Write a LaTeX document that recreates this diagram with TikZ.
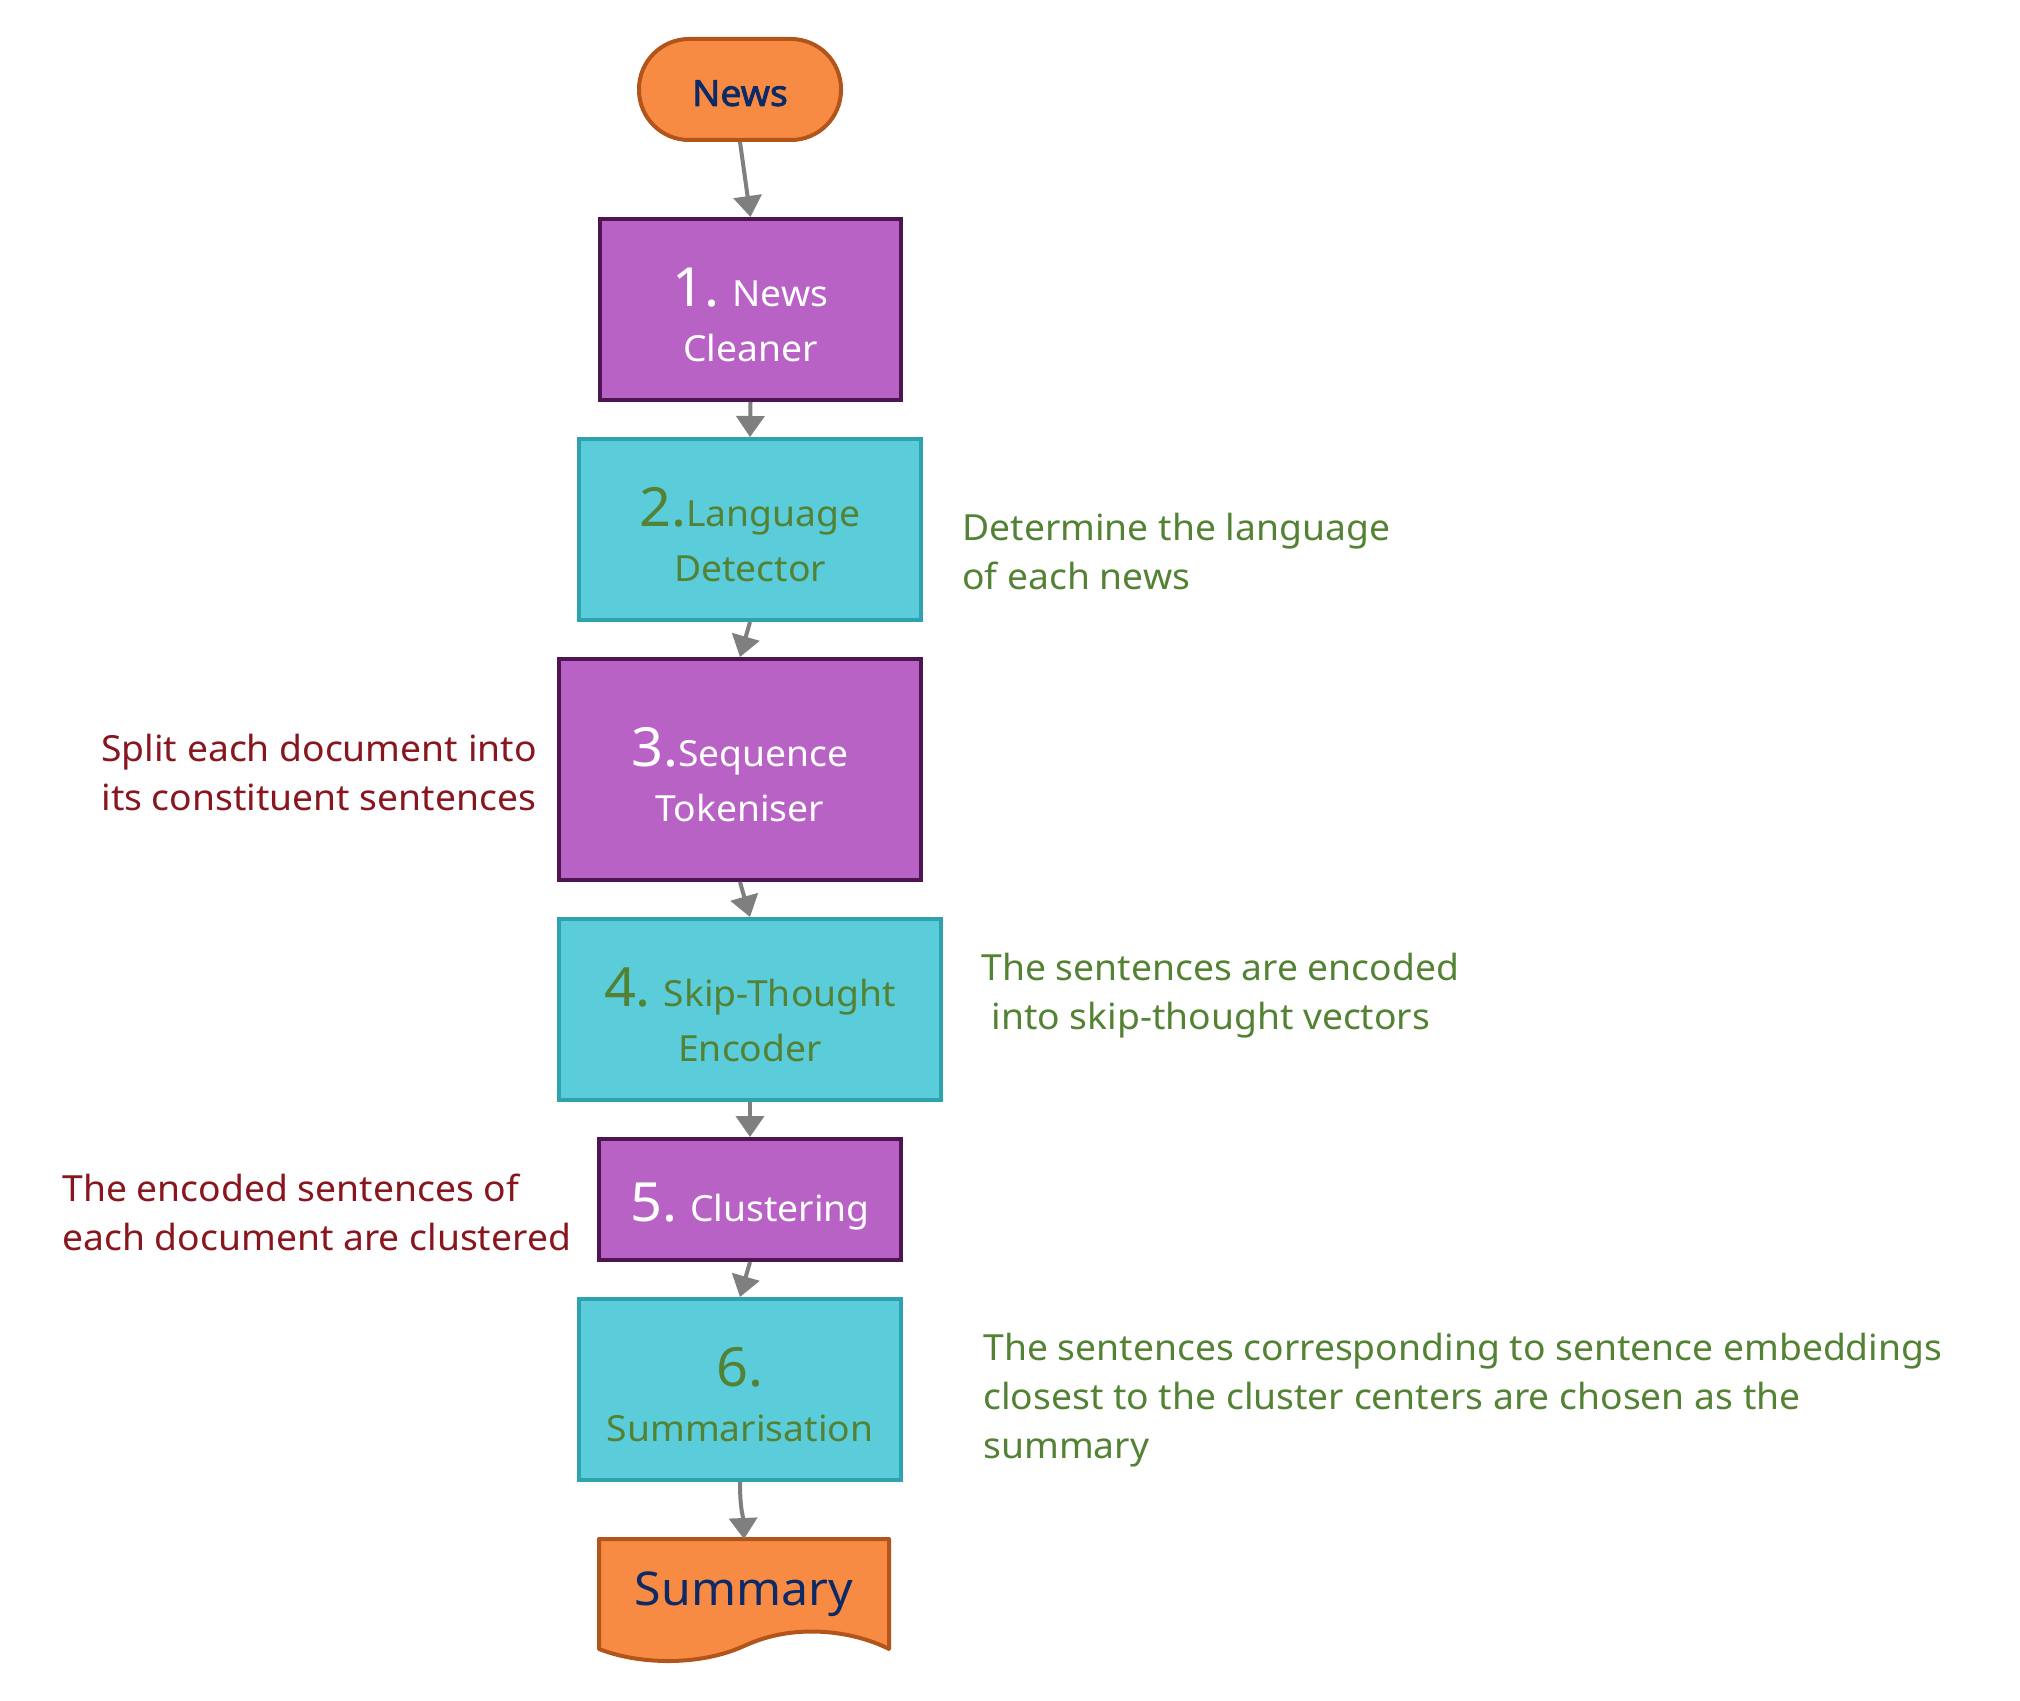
\documentclass[tikz,border=0pt]{standalone}
\usepackage{fontspec}
\setmainfont{Noto Sans}[FakeStretch=1.035]
\newfontfamily\termfont{Noto Sans}[FakeStretch=1.035,FakeBold=2.2]
\usetikzlibrary{arrows.meta,backgrounds}

\definecolor{procfill}{HTML}{B962C6}
\definecolor{procline}{HTML}{4E1551}
\definecolor{stepfill}{HTML}{5BCCDA}
\definecolor{stepline}{HTML}{2DA3B0}
\definecolor{termfill}{HTML}{F88B43}
\definecolor{termline}{HTML}{B3541B}
\definecolor{navytext}{HTML}{0E2A66}
\definecolor{greentext}{HTML}{548235}
\definecolor{redtext}{HTML}{88161E}
\definecolor{linkgray}{HTML}{7F7F7F}

\newcommand{\stepnum}[1]{{\fontsize{27}{27.5}\selectfont #1}}

\begin{document}
\begin{tikzpicture}[
  x=0.5pt, y=-0.5pt,
  flowbox/.style={rectangle, draw, line width=2pt, inner sep=0pt},
  procbox/.style={flowbox, fill=procfill, draw=procline},
  stepbox/.style={flowbox, fill=stepfill, draw=stepline},
  boxtext/.style={align=center, inner sep=0pt,
    font=\fontsize{18}{27.5}\selectfont},
  terminal/.style={rectangle, rounded corners=25pt, draw=termline, fill=termfill,
    line width=2pt, minimum width=101pt, minimum height=50.5pt, inner sep=0pt,
    text=navytext, font=\termfont\fontsize{18}{22}\selectfont},
  doc/.style={rectangle, minimum width=145pt, minimum height=55pt, inner sep=0pt,
    outer sep=0pt, text=navytext, font=\fontsize{23.3}{28}\selectfont},
  docshape/.style={draw=termline, fill=termfill, line width=2pt, line join=round},
  note/.style={align=left, inner sep=0pt, anchor=base west,
    font=\fontsize{18}{24.5}\selectfont},
  link/.style={draw=linkgray, line width=2pt,
    -{Triangle[length=10.5pt,width=14pt]}}
]
\useasboundingbox (0,0) rectangle (2020,1701);

% start terminal
\node[terminal] (news) at (740,89.5) {\raisebox{0pt}[16.4pt][0pt]{News}};

% processing steps
\node[procbox, minimum width=150.5pt, minimum height=90.5pt] (clean) at (750.5,309.5) {};
\node[boxtext, text=white] (cleantxt) at ([yshift=-2.75pt]clean.center)
  {\stepnum{1.} News\\Cleaner};

\node[stepbox, minimum width=171pt, minimum height=90.5pt] (lang) at (750,529.5) {};
\node[boxtext, text=greentext] (langtxt) at ([yshift=-2.75pt]lang.center)
  {\stepnum{2.}Language\\Detector};

\node[procbox, minimum width=181pt, minimum height=110.5pt] (token) at (740,769.5) {};
\node[boxtext, text=white] (tokentxt) at ([yshift=-2.75pt]token.center)
  {\stepnum{3.}Sequence\\Tokeniser};

\node[stepbox, minimum width=191pt, minimum height=90.5pt] (skip) at (750,1009.5) {};
\node[boxtext, text=greentext] (skiptxt) at ([yshift=-2.75pt]skip.center)
  {\stepnum{4.} Skip-Thought\\Encoder};

\node[procbox, minimum width=151pt, minimum height=60.5pt] (clust) at (750,1199.5) {};
\node[boxtext, text=white] (clusttxt) at ([yshift=-3.5pt]clust.center)
  {\stepnum{5.} Clustering};

\node[stepbox, minimum width=161pt, minimum height=90.5pt] (summ) at (740,1389.5) {};
\node[boxtext, text=greentext] (summtxt) at ([yshift=-2.75pt]summ.center)
  {\stepnum{6.}\\Summarisation};

% output document
\node[doc] (summary) at (744,1594) {Summary};
\begin{scope}[on background layer]
  \path[docshape] (summary.north west) -- (summary.north east) -- (summary.south east)
    .. controls (860,1634) and (800,1620) .. (744,1646)
    .. controls (700,1666) and (640,1665) .. (summary.south west) -- cycle;
\end{scope}

% connectors
\draw[link] (news.south) -- (clean.north);
\draw[link] (clean.south) -- (lang.north);
\draw[link] (lang.south) -- (token.north);
\draw[link] (token.south) -- (skip.north);
\draw[link] (skip.south) -- (clust.north);
\draw[link] (clust.south) -- (summ.north);
\draw[link] (summ.south) .. controls (740,1510) and (743,1515) .. (summary.north);

% annotations (anchored at the baseline of their last line)
\node[note, text=greentext] (langnote) at (962,589)
  {Determine the language\\of each news};
\node[note, text=redtext] (splitnote) at (101,810)
  {Split each document into\\its constituent sentences};
\node[note, text=greentext] (encnote) at (981,1029)
  {The sentences are encoded\\\hspace*{0.28em}into skip-thought vectors};
\node[note, text=redtext] (clustnote) at (62,1250)
  {The encoded sentences of\\each document are clustered};
\node[note, text=greentext] (summnote) at (983,1458)
  {The sentences corresponding to sentence embeddings\\closest to the cluster centers are chosen as the\\summary};
\end{tikzpicture}
\end{document}
